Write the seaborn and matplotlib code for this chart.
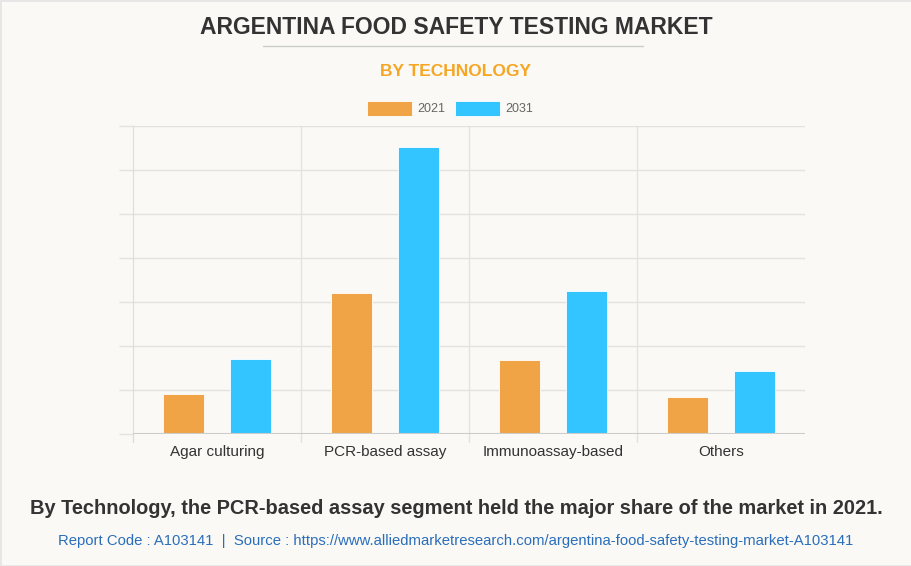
import matplotlib
matplotlib.use("Agg")
import matplotlib.pyplot as plt
import seaborn as sns
import pandas as pd
from matplotlib.patches import Rectangle
from matplotlib.lines import Line2D

# data (in gridline units)
categories = ['Agar culturing', 'PCR-based assay', 'Immunoassay-based', 'Others']
years = ['2021', '2031']
values_2021 = [0.91, 3.20, 1.68, 0.84]
values_2031 = [1.70, 6.52, 3.25, 1.43]
colors = {'2021': '#F0A445', '2031': '#33C5FF'}

df = pd.DataFrame({
    'segment': categories * 2,
    'year': ['2021'] * 4 + ['2031'] * 4,
    'value': values_2021 + values_2031,
})

sns.set_style('white')
plt.rcParams['font.family'] = ['Liberation Sans', 'DejaVu Sans']

bg = '#FAF9F5'
fig = plt.figure(figsize=(9.12, 5.66), dpi=100, facecolor=bg)
W, H = 912, 566
ax = fig.add_axes([133 / W, 1 - 434 / H, (805 - 133) / W, (434 - 126) / H])
ax.set_facecolor(bg)

sns.barplot(data=df, x='segment', y='value', hue='year', palette=colors,
            width=0.8, gap=0.39, ax=ax, legend=False, saturation=1,
            edgecolor='white', linewidth=0.6)

ax.set_xlim(-0.5, 3.5)
ax.set_ylim(0, 7)
ax.set_yticks(range(0, 8))
ax.set_yticklabels([])
ax.yaxis.grid(True, color='#E2E2E2', linewidth=1)
ax.set_axisbelow(True)
for s in ['top', 'right', 'bottom']:
    ax.spines[s].set_visible(False)
ax.spines['left'].set_color('#DCDCDC')
ax.tick_params(axis='y', left=True, length=10, color='#E2E2E2', width=1)
ax.tick_params(axis='x', length=0, labelsize=11, labelcolor='#333333', pad=8)
ax.set_xlabel('')
ax.set_ylabel('')

# category separators and baseline
for xv in [0.5, 1.5, 2.5]:
    ax.add_line(Line2D([xv, xv], [-0.18, 7], color='#E2E2E2', linewidth=1,
                       clip_on=False, zorder=0))
ax.add_line(Line2D([-0.5, -0.5], [-0.18, 0], color='#DCDCDC', linewidth=1,
                   clip_on=False, zorder=0))
ax.axhline(0, color='#CCCCCC', linewidth=1.5, zorder=3)

# titles
fig.text(0.5, 1 - 27 / H, 'ARGENTINA FOOD SAFETY TESTING MARKET', ha='center',
         va='center', fontsize=16.5, fontweight='heavy', color='#333333')
fig.add_artist(Line2D([263 / W, 643 / W], [1 - 46 / H, 1 - 46 / H],
                      color='#CCCCCC', linewidth=1))
fig.text(0.5, 1 - 72 / H, 'BY TECHNOLOGY', ha='center', va='center',
         fontsize=12.5, fontweight='bold', color='#F5A623')

# legend
for x0, yr in [(367, '2021'), (455, '2031')]:
    fig.add_artist(Rectangle((x0 / W, 1 - 116 / H), 45 / W, 15 / H,
                             facecolor=colors[yr], edgecolor='white', linewidth=0.6))
    fig.text((x0 + 50) / W, 1 - 108.5 / H, yr, ha='left', va='center',
             fontsize=9, color='#666666')

fig.text(0.5, 1 - 509 / H,
         'By Technology, the PCR-based assay segment held the major share of the market in 2021.',
         ha='center', va='center', fontsize=14.4, fontweight='bold', color='#333333')
fig.text(0.5, 1 - 541 / H,
         'Report Code : A103141  |  Source : https://www.alliedmarketresearch.com/argentina-food-safety-testing-market-A103141',
         ha='center', va='center', fontsize=10.7, color='#2A6EBB')

fig.add_artist(Rectangle((0, 0), 1, 1, transform=fig.transFigure, fill=False,
                         edgecolor='#E6E6E6', linewidth=2))

fig.savefig('out.png', dpi=100, facecolor=bg)
